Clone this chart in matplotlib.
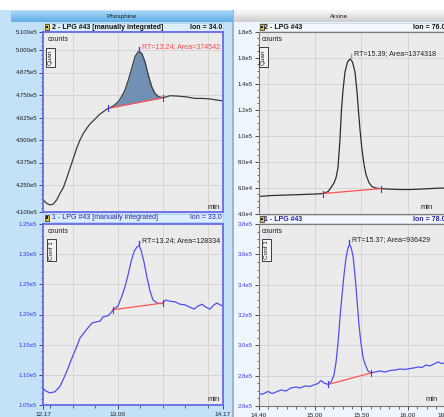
import numpy as np
import matplotlib.pyplot as plt
from matplotlib.patches import Rectangle
from matplotlib.colors import LinearSegmentedColormap
from matplotlib.ticker import MultipleLocator

plt.rcParams['font.family'] = ['Liberation Sans', 'DejaVu Sans']

W, H = 444, 417

# Phosphine, trace 2 (Ion = 34.0, Quan), manually integrated
ph2_t = [12.173, 12.211, 12.248, 12.284, 12.322, 12.359, 12.397, 12.433, 12.470, 12.507,
         12.544, 12.581, 12.618, 12.656, 12.692, 12.729, 12.767, 12.803, 12.840, 12.878,
         12.896, 12.951, 13.007, 13.044, 13.081, 13.118, 13.156, 13.192, 13.229, 13.267,
         13.303, 13.340, 13.378, 13.414, 13.451, 13.507, 13.581, 13.670, 13.770, 13.859,
         13.948, 14.026, 14.103, 14.170]
ph2_v = [4.167e5, 4.148e5, 4.139e5, 4.144e5, 4.167e5, 4.204e5, 4.237e5, 4.287e5, 4.343e5, 4.398e5,
         4.454e5, 4.500e5, 4.537e5, 4.565e5, 4.589e5, 4.607e5, 4.626e5, 4.644e5, 4.657e5, 4.671e5,
         4.676e5, 4.689e5, 4.713e5, 4.741e5, 4.778e5, 4.833e5, 4.898e5, 4.963e5, 4.991e5, 4.982e5,
         4.935e5, 4.861e5, 4.796e5, 4.759e5, 4.741e5, 4.735e5, 4.746e5, 4.744e5, 4.739e5, 4.731e5,
         4.731e5, 4.728e5, 4.722e5, 4.717e5]
ph2_base_t = [12.896, 13.507]
ph2_base_v = [4.676e5, 4.735e5]
ph2_rt, ph2_area = 13.24, 374542

# Phosphine, trace 1 (Ion = 33.0, Conf 1)
ph1_t = [12.170, 12.203, 12.248, 12.303, 12.359, 12.403, 12.448, 12.492, 12.537, 12.581,
         12.648, 12.714, 12.770, 12.803, 12.837, 12.892, 12.926, 12.948, 13.003, 13.048,
         13.081, 13.114, 13.148, 13.181, 13.214, 13.237, 13.259, 13.292, 13.326, 13.359,
         13.392, 13.437, 13.492, 13.537, 13.581, 13.637, 13.692, 13.748, 13.803, 13.848,
         13.892, 13.937, 13.981, 14.026, 14.070, 14.103, 14.137, 14.170]
ph1_v = [1.078e5, 1.073e5, 1.070e5, 1.072e5, 1.081e5, 1.095e5, 1.111e5, 1.128e5, 1.144e5, 1.161e5,
         1.174e5, 1.186e5, 1.188e5, 1.189e5, 1.196e5, 1.198e5, 1.203e5, 1.208e5, 1.214e5, 1.231e5,
         1.246e5, 1.265e5, 1.287e5, 1.304e5, 1.312e5, 1.314e5, 1.307e5, 1.287e5, 1.261e5, 1.239e5,
         1.224e5, 1.219e5, 1.218e5, 1.224e5, 1.222e5, 1.221e5, 1.217e5, 1.216e5, 1.212e5, 1.209e5,
         1.214e5, 1.217e5, 1.212e5, 1.209e5, 1.216e5, 1.219e5, 1.216e5, 1.214e5]
ph1_base_t = [12.948, 13.503]
ph1_base_v = [1.208e5, 1.219e5]
ph1_rt, ph1_area = 13.24, 128334

# Arsine, trace 2 (Ion = 76.0, Quan)
ar2_t = [14.400, 14.521, 14.682, 14.843, 15.003, 15.089, 15.143, 15.175, 15.207, 15.229,
         15.250, 15.271, 15.287, 15.304, 15.325, 15.352, 15.379, 15.405, 15.432, 15.454,
         15.470, 15.486, 15.507, 15.529, 15.550, 15.582, 15.614, 15.657, 15.711, 15.807,
         15.914, 16.021, 16.129, 16.236, 16.343, 16.400]
ar2_v = [5.31e4, 5.38e4, 5.42e4, 5.46e4, 5.50e4, 5.54e4, 5.69e4, 6.00e4, 6.35e4, 6.77e4,
         7.54e4, 9.69e4, 1.200e5, 1.354e5, 1.492e5, 1.569e5, 1.592e5, 1.569e5, 1.492e5, 1.338e5,
         1.185e5, 1.046e5, 8.92e4, 7.77e4, 7.00e4, 6.38e4, 6.08e4, 5.96e4, 5.92e4, 5.88e4,
         5.85e4, 5.85e4, 5.88e4, 5.92e4, 5.96e4, 5.96e4]
ar2_base_t = [15.089, 15.711]
ar2_base_v = [5.54e4, 5.92e4]
ar2_rt, ar2_area = 15.39, 1374318

# Arsine, trace 1 (Ion = 78.0, Conf 1)
ar1_t = [14.400, 14.446, 14.500, 14.543, 14.585, 14.639, 14.693, 14.746, 14.800, 14.843,
         14.896, 14.950, 15.004, 15.036, 15.068, 15.100, 15.143, 15.175, 15.207, 15.229,
         15.250, 15.271, 15.293, 15.314, 15.336, 15.357, 15.373, 15.389, 15.411, 15.432,
         15.454, 15.475, 15.496, 15.518, 15.539, 15.571, 15.604, 15.646, 15.700, 15.754,
         15.807, 15.861, 15.914, 15.968, 16.021, 16.064, 16.107, 16.150, 16.193, 16.236,
         16.279, 16.321, 16.364, 16.400]
ar1_v = [2.679e5, 2.679e5, 2.696e5, 2.682e5, 2.692e5, 2.706e5, 2.699e5, 2.719e5, 2.725e5, 2.719e5,
         2.732e5, 2.729e5, 2.742e5, 2.748e5, 2.768e5, 2.752e5, 2.742e5, 2.758e5, 2.804e5, 2.890e5,
         3.015e5, 3.180e5, 3.332e5, 3.464e5, 3.576e5, 3.642e5, 3.662e5, 3.648e5, 3.589e5, 3.464e5,
         3.299e5, 3.134e5, 3.015e5, 2.923e5, 2.877e5, 2.831e5, 2.818e5, 2.824e5, 2.831e5, 2.824e5,
         2.834e5, 2.837e5, 2.844e5, 2.841e5, 2.847e5, 2.851e5, 2.857e5, 2.854e5, 2.870e5, 2.864e5,
         2.877e5, 2.890e5, 2.880e5, 2.884e5]
ar1_base_t = [15.143, 15.604]
ar1_base_v = [2.742e5, 2.818e5]
ar1_rt, ar1_area = 15.37, 936429

# axis ticks / labels
ph_xlim = (12.17, 14.17)
ph_xticks = [12.17, 13.00, 14.17]
ph_xgrid = [12.5, 13.0, 13.5, 14.0]
ar_xlim = (14.40, 16.40)
ar_xticks = [14.40, 15.00, 15.50, 16.00, 16.40]
ar_xgrid = [14.5, 15.0, 15.5, 16.0]

ph2_yticks = [4.1e5, 4.25e5, 4.375e5, 4.5e5, 4.625e5, 4.75e5, 4.875e5, 5.0e5, 5.1e5]
ph2_ylabels = ['4.100e5', '4.250e5', '4.375e5', '4.500e5', '4.625e5', '4.750e5', '4.875e5', '5.000e5', '5.100e5']
ph1_yticks = [1.05e5, 1.10e5, 1.15e5, 1.20e5, 1.25e5, 1.30e5, 1.35e5]
ph1_ylabels = ['1.05e5', '1.10e5', '1.15e5', '1.20e5', '1.25e5', '1.30e5', '1.35e5']
ar2_yticks = [4e4, 6e4, 8e4, 1.0e5, 1.2e5, 1.4e5, 1.6e5, 1.8e5]
ar2_ylabels = ['4.0e4', '6.0e4', '8.0e4', '1.0e5', '1.2e5', '1.4e5', '1.6e5', '1.8e5']
ar1_yticks = [2.6e5, 2.8e5, 3.0e5, 3.2e5, 3.4e5, 3.6e5, 3.8e5]
ar1_ylabels = ['2.6e5', '2.8e5', '3.0e5', '3.2e5', '3.4e5', '3.6e5', '3.8e5']

fig = plt.figure(figsize=(W / 100, H / 100), dpi=100)


def fbox(x0, y0, x1, y1):
    return [x0 / W, 1 - y1 / H, (x1 - x0) / W, (y1 - y0) / H]


def rect(x0, y0, x1, y1, fc, ec='none', lw=0, z=-3):
    r = Rectangle((x0 / W, 1 - y1 / H), (x1 - x0) / W, (y1 - y0) / H,
                  transform=fig.transFigure, fc=fc, ec=ec, lw=lw, zorder=z)
    fig.add_artist(r)


def ftext(x, y, s, **kw):
    fig.text(x / W, 1 - y / H, s, va='center', **kw)


def gradient_bar(x0, y0, x1, y1, c_top, c_bot, label):
    ax = fig.add_axes(fbox(x0, y0, x1, y1))
    cmap = LinearSegmentedColormap.from_list('bar', [c_top, c_bot])
    ax.imshow(np.linspace(0, 1, 30)[:, None], cmap=cmap, aspect='auto', extent=[0, 1, 0, 1])
    ax.axis('off')
    ax.text(0.5, 0.5, label, ha='center', va='center', fontsize=4.6, color='#202020')


# backgrounds
rect(0, 10, 232, H, '#c3e1f7')
rect(232, 10, 234, H, '#9fb4c8')
rect(234, 10, W, H, '#eef5fc')
gradient_bar(11, 11, 232, 22, '#a6d6f7', '#5fade7', 'Phosphine')
gradient_bar(234, 11, W, 22, '#f6f6f6', '#cdcdcd', 'Arsine')

# sub headers
rect(43, 23, 223, 31, '#dcedfb', '#a8cdee', 0.5, z=-2)
rect(43, 213.5, 223, 222, '#dcedfb', '#a8cdee', 0.5, z=-2)
rect(258.7, 23, W + 2, 31, '#f3f7fb', '#c6d2de', 0.5, z=-2)
rect(258.7, 215, W + 2, 223, '#f3f7fb', '#c6d2de', 0.5, z=-2)
for ix, iy in [(44.5, 23.8), (44.5, 214.5), (259.5, 23.8), (259.5, 215.8)]:
    rect(ix, iy, ix + 4.5, iy + 6.5, '#e8c23a', '#202020', 0.5, z=-1)
    rect(ix + 1.3, iy + 2, ix + 3.2, iy + 4.5, '#202020', z=-1)

ftext(51.5, 27.3, '2 - LPG #43 [manually integrated]', fontsize=5, fontweight='bold', color='#111111')
ftext(222, 27.3, 'Ion = 34.0', fontsize=5, fontweight='bold', color='#111111', ha='right')
ftext(51.5, 217.8, '1 - LPG #43 [manually integrated]', fontsize=5, color='#2323a8')
ftext(222, 217.8, 'Ion = 33.0', fontsize=5, color='#2323a8', ha='right')
ftext(264, 27.3, '2 - LPG #43', fontsize=5, fontweight='bold', color='#111111')
ftext(445, 27.3, 'Ion = 76.0', fontsize=5, fontweight='bold', color='#111111', ha='right')
ftext(264, 219.3, '1 - LPG #43', fontsize=5, fontweight='bold', color='#2323a8')
ftext(445, 219.3, 'Ion = 78.0', fontsize=5, fontweight='bold', color='#2323a8', ha='right')


def panel(box, t, v, base_t, base_v, rt, area, xlim, xgrid, yticks, ylabels, yminor,
          line_col, frame_col, frame_lw, ylab_col, tag, tag_xy, counts_xy, min_xy,
          rt_col, mark_col, fill=False, xticks=None, xminor=None):
    x0, y0, x1, y1 = box
    ax = fig.add_axes(fbox(*box))
    ax.set_facecolor('#ebebeb')
    ax.set_xlim(*xlim)
    ax.set_ylim(yticks[0], yticks[-1])
    dpy = (yticks[-1] - yticks[0]) / (y1 - y0)

    for gx in xgrid:
        ax.axvline(gx, color='#d3d3d3', lw=0.6, zorder=0.5)
    for gy in yticks[1:-1]:
        ax.axhline(gy, color='#d3d3d3', lw=0.6, zorder=0.5)

    if fill:
        tt = np.array(t)
        vv = np.array(v)
        m = (tt >= base_t[0]) & (tt <= base_t[1])
        ft = np.concatenate([[base_t[0]], tt[m], [base_t[1]]])
        fv = np.concatenate([[base_v[0]], vv[m], [base_v[1]]])
        fb = np.interp(ft, base_t, base_v)
        ax.fill_between(ft, fb, fv, color='#6386ae', alpha=0.9, lw=0, zorder=1)

    ax.plot(t, v, color=line_col, lw=0.9, zorder=2)
    ax.plot(base_t, base_v, color='#ff5555', lw=0.9, zorder=3)
    for bt, bv in zip(base_t, base_v):
        ax.plot([bt, bt], [bv - 3 * dpy, bv + 3 * dpy], color='#3b3bff', lw=0.8, zorder=4)

    vmax = max(v)
    ax.plot([rt, rt], [vmax + 1 * dpy, vmax + 5 * dpy], color=mark_col, lw=1.0, zorder=4)
    ax.annotate(f'RT={rt:.2f}; Area={area}', xy=(rt, vmax), xytext=(2.2, 3.8),
                textcoords='offset points', fontsize=5.1, color=rt_col, va='center')

    ax.text(counts_xy[0], counts_xy[1], 'counts', transform=ax.transAxes,
            fontsize=5, color='#202020', va='center')
    ax.text(tag_xy[0], tag_xy[1], tag, transform=ax.transAxes, rotation=90,
            fontsize=4.6, color='#202020', ha='center', va='center',
            bbox=dict(boxstyle='square,pad=0.3', fc='#f2f2f2', ec='#202020', lw=0.6))
    ax.text(min_xy[0], min_xy[1], 'min', transform=ax.transAxes,
            fontsize=5.5, color='#202020', ha='right', va='center')

    for sp in ax.spines.values():
        sp.set_color(frame_col)
        sp.set_linewidth(frame_lw)

    ax.set_yticks(yticks, labels=ylabels)
    ax.yaxis.set_minor_locator(MultipleLocator(yminor))
    ax.tick_params(axis='y', which='major', direction='out', length=3, width=0.6,
                   labelsize=4.3, pad=1.2, labelcolor=ylab_col, color='#303030')
    ax.tick_params(axis='y', which='minor', direction='out', length=1.5, width=0.5, color='#303030')

    if xticks is None:
        ax.set_xticks([])
        ax.tick_params(axis='x', length=0, labelbottom=False)
    else:
        ax.set_xticks(xticks, labels=[f'{x:.2f}' for x in xticks])
        ax.xaxis.set_minor_locator(MultipleLocator(xminor))
        ax.tick_params(axis='x', which='major', direction='out', length=3, width=0.6,
                       labelsize=4.6, pad=2.2, color='#303030', labelcolor='#202020')
        ax.tick_params(axis='x', which='minor', direction='out', length=2, width=0.5, color='#303030')
    return ax


panel((43, 32, 223, 212), ph2_t, ph2_v, ph2_base_t, ph2_base_v, ph2_rt, ph2_area,
      ph_xlim, ph_xgrid, ph2_yticks, ph2_ylabels, 2500,
      '#3c3c3c', '#6a6ae8', 1.3, '#202020', 'Quan', (0.041, 0.86), (0.024, 0.96), (0.983, 0.025),
      '#ff4a4a', '#3b3bff', fill=True)
panel((43, 224, 223, 405), ph1_t, ph1_v, ph1_base_t, ph1_base_v, ph1_rt, ph1_area,
      ph_xlim, ph_xgrid, ph1_yticks, ph1_ylabels, 1000,
      '#4f4ff0', '#6a6ae8', 1.3, '#3c3cf0', 'Conf 1', (0.048, 0.856), (0.024, 0.957), (0.983, 0.031),
      '#202020', '#3b3bff', xticks=ph_xticks, xminor=0.25)
panel((258.7, 32, 445.3, 213.5), ar2_t, ar2_v, ar2_base_t, ar2_base_v, ar2_rt, ar2_area,
      ar_xlim, ar_xgrid, ar2_yticks, ar2_ylabels, 5000,
      '#2e2e2e', '#7a7a7a', 0.8, '#202020', 'Quan', (0.027, 0.863), (0.014, 0.96), (0.934, 0.033),
      '#202020', '#9a8cff')
panel((258.7, 224, 445.3, 406), ar1_t, ar1_v, ar1_base_t, ar1_base_v, ar1_rt, ar1_area,
      ar_xlim, ar_xgrid, ar1_yticks, ar1_ylabels, 5000,
      '#5050f0', '#7a7a7a', 0.8, '#3c3cf0', 'Conf 1', (0.041, 0.857), (0.014, 0.957), (0.961, 0.038),
      '#202020', '#3b3bff', xticks=ar_xticks, xminor=0.1)

fig.savefig('out.png', dpi=100)
